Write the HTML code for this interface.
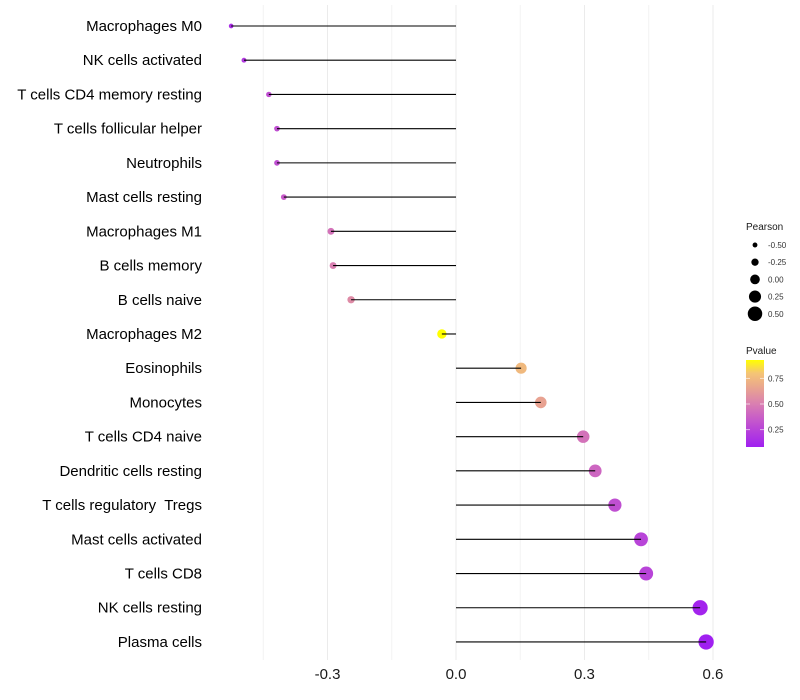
<!DOCTYPE html>
<html><head><meta charset="utf-8"><style>
body{margin:0;background:#fff;}
svg{display:block;font-family:"Liberation Sans",sans-serif;}
text{white-space:pre;}
</style></head><body>
<svg id="chart" width="800" height="700"></svg>
<script>
const categories=["Macrophages M0","NK cells activated","T cells CD4 memory resting","T cells follicular helper","Neutrophils","Mast cells resting","Macrophages M1","B cells memory","B cells naive","Macrophages M2","Eosinophils","Monocytes","T cells CD4 naive","Dendritic cells resting","T cells regulatory  Tregs","Mast cells activated","T cells CD8","NK cells resting","Plasma cells"];
const pearson=[-0.525,-0.495,-0.437,-0.418,-0.418,-0.402,-0.292,-0.287,-0.245,-0.033,0.152,0.198,0.297,0.325,0.371,0.432,0.444,0.570,0.584];
const pvalue=[0.15,0.2,0.3,0.3,0.3,0.35,0.45,0.5,0.55,0.93,0.75,0.65,0.45,0.4,0.3,0.25,0.25,0.1,0.08];
const xTicks=[-0.3,0.0,0.3,0.6];
const xTickLabels=["-0.3","0.0","0.3","0.6"];
const xMinor=[-0.45,-0.15,0.15,0.45];
const sizeLegend=[-0.5,-0.25,0,0.25,0.5];
const sizeLegendLabels=["-0.50","-0.25","0.00","0.25","0.50"];
const colorLegend=[0.25,0.5,0.75];
const colorLegendLabels=["0.25","0.50","0.75"];

const NS="http://www.w3.org/2000/svg";
const svg=document.getElementById('chart');
function x(v){return 456+v*428.3;}
function y(i){return 26+i*34.22;}
function r(v){return 2.2+(v+0.55)*4.8;}
const stops=[[0,[160,32,240]],[0.33,[200,92,200]],[0.5,[218,128,176]],[0.7,[234,168,140]],[0.85,[245,197,117]],[1,[255,255,0]]];
function col(p){let t=(p-0.08)/(0.93-0.08);t=Math.max(0,Math.min(1,t));
 for(let k=1;k<stops.length;k++){if(t<=stops[k][0]){const a=stops[k-1],b=stops[k];const f=(t-a[0])/(b[0]-a[0]);
 const c=a[1].map((v,j)=>Math.round(v+(b[1][j]-v)*f));return `rgb(${c.join(',')})`;}}return 'rgb(255,255,0)';}
function el(tag,attrs,parent){const e=document.createElementNS(NS,tag);for(const k in attrs)e.setAttribute(k,attrs[k]);(parent||svg).appendChild(e);return e;}

xMinor.forEach(v=>{const l=el('line',{x1:x(v),x2:x(v),y1:5,y2:660,stroke:'#f2f2f2','stroke-width':1});

});
xTicks.forEach((v,i)=>{const l=el('line',{x1:x(v),x2:x(v),y1:5,y2:660,stroke:'#ebebeb','stroke-width':1});


const t=el('text',{x:x(v),y:679,'font-size':15,'text-anchor':'middle',fill:'#1a1a1a'});t.textContent=xTickLabels[i];

});

categories.forEach((c,i)=>{
 const t=el('text',{x:202,y:y(i)+5,'font-size':15,'text-anchor':'end',fill:'#000'});t.textContent=c;
 
 
 const pt=el('circle',{cx:x(pearson[i]),cy:y(i),r:r(pearson[i]),fill:col(pvalue[i])});
 
 
 const ln=el('line',{x1:x(0),x2:x(pearson[i]),y1:y(i),y2:y(i),stroke:'#000','stroke-width':1.1});
 
 
});

const lt=el('text',{x:746,y:230,'font-size':10,fill:'#1a1a1a'});lt.textContent='Pearson';


sizeLegend.forEach((v,i)=>{const cy=245+i*17.2;
 const c=el('circle',{cx:755,cy:cy,r:r(v),fill:'#000'});
 
 
 const t=el('text',{x:768,y:cy+3,'font-size':8,fill:'#333'});t.textContent=sizeLegendLabels[i];
 
 });

const ct=el('text',{x:746,y:354,'font-size':10,fill:'#1a1a1a'});ct.textContent='Pvalue';


const defs=el('defs',{});const g=el('linearGradient',{id:'pg',x1:0,y1:1,x2:0,y2:0},defs);
for(let k=0;k<=20;k++){const p=0.08+k/20*(0.93-0.08);el('stop',{offset:k/20,'stop-color':col(p)},g);}
const bar=el('rect',{x:746,y:360,width:18,height:87,fill:'url(#pg)'});


colorLegend.forEach((v,i)=>{const cy=447-(v-0.08)/(0.93-0.08)*87;
 el('line',{x1:746,x2:750,y1:cy,y2:cy,stroke:'#fff','stroke-opacity':0.6});
 el('line',{x1:760,x2:764,y1:cy,y2:cy,stroke:'#fff','stroke-opacity':0.6});
 const t=el('text',{x:768,y:cy+3,'font-size':8,fill:'#333'});t.textContent=colorLegendLabels[i];
 
 });
</script>
</body></html>
